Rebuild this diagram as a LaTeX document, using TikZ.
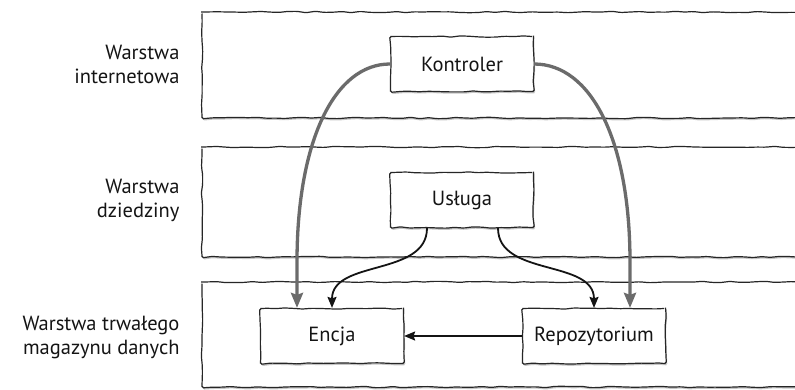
\documentclass[tikz,border=0pt]{standalone}
\usepackage{fontspec}
\setmainfont{PT Sans}
\usetikzlibrary{arrows.meta}
\usetikzlibrary{decorations.pathmorphing}
\usetikzlibrary{shadows}

\begin{document}
\pgfmathsetseed{7}
\begin{tikzpicture}[x=1pt,y=-1pt,
        every node/.style={font=\fontsize{20.5}{24}\selectfont,text=black!92},
        wavy/.style={decorate,decoration={random steps,segment length=9pt,amplitude=0.7pt},rounded corners=1.5pt},
        layer/.style={draw=black!85,line width=1.2pt,wavy,fill=white,
            drop shadow={shadow xshift=0.8pt,shadow yshift=-1.8pt,fill=black!45}},
        comp/.style={draw=black!85,line width=1.2pt,wavy,fill=white,
            minimum width=143pt,minimum height=55pt,
            drop shadow={shadow xshift=1pt,shadow yshift=-1.8pt,fill=black!45}},
        layername/.style={align=right,anchor=east},
        garrow/.style={draw=black!58,line width=3.3pt,-{Stealth[length=15pt,width=12pt,inset=2pt]}},
        barrow/.style={draw=black!92,line width=1.8pt,-{Stealth[length=11pt,width=9pt,inset=1.5pt]}}]
    \useasboundingbox (0,0) rectangle (795,389);
    % warstwy
    \draw[layer] (202,12) rectangle (830,118);
    \draw[layer] (202,147) rectangle (830,257);
    \draw[layer] (202,282) rectangle (830,387);
    \node[layername] (lweb) at (183,64) {Warstwa\\internetowa};
    \node[layername] (ldom) at (183,200) {Warstwa\\dziedziny};
    \node[layername] (lper) at (183,337) {Warstwa trwałego\\magazynu danych};
    % komponenty
    \node[comp] (kontr) at (462,64) {Kontroler};
    \node[comp] (uslug) at (462,200) {Usługa};
    \node[comp] (encja) at (332,336) {Encja};
    \node[comp] (repo) at (594,336) {Repozytorium};
    % polaczenia
    \draw[garrow] (kontr.west) .. controls (335,64) and (297,140) .. (297,262) -- ([xshift=-35pt]encja.north);
    \draw[garrow] (kontr.east) .. controls (591,64) and (630,140) .. (630,262) -- ([xshift=36pt]repo.north);
    \draw[barrow] ([xshift=-35pt]uslug.south) to[out=-90,in=90] (encja.north);
    \draw[barrow] ([xshift=36pt]uslug.south) to[out=-90,in=90] (repo.north);
    \draw[barrow] (repo.west) -- (encja.east);
\end{tikzpicture}
\end{document}
